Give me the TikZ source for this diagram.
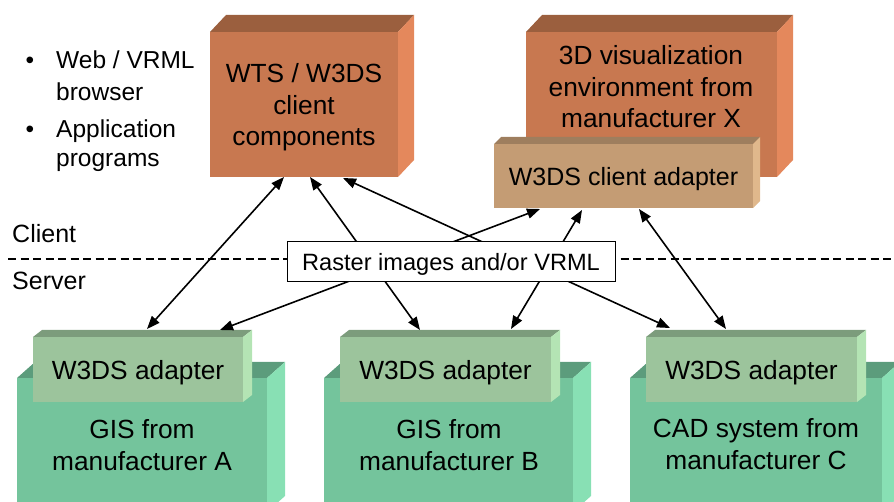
\documentclass[tikz,border=0pt]{standalone}
\usepackage{fontspec}
\setmainfont{Liberation Sans}
\usetikzlibrary{arrows.meta}
\definecolor{orF}{HTML}{C87850}
\definecolor{orT}{HTML}{9B5F3E}
\definecolor{orS}{HTML}{E4885C}
\definecolor{tnF}{HTML}{C49C74}
\definecolor{tnT}{HTML}{9E7E5E}
\definecolor{tnS}{HTML}{E0B88C}
\definecolor{gnF}{HTML}{74C49C}
\definecolor{gnT}{HTML}{5C9C7C}
\definecolor{gnS}{HTML}{88E0B4}
\definecolor{adF}{HTML}{9CC49C}
\definecolor{adT}{HTML}{7C9C7C}
\definecolor{adS}{HTML}{B4E4B4}
% #1 node, #2 dx, #3 dy (up), #4 top colour, #5 side colour
\newcommand\threedfaces[5]{%
  \fill[#4] (#1.north west) -- ++(#2,-#3) -- ([shift={(#2,-#3)}]#1.north east) -- (#1.north east) -- cycle;
  \fill[#5] (#1.north east) -- ++(#2,-#3) -- ([shift={(#2,-#3)}]#1.south east) -- (#1.south east) -- cycle;}
\begin{document}
\begin{tikzpicture}[x=1pt,y=-1pt,
  face/.style={inner sep=0pt, outer sep=0pt, anchor=north west},
  big/.style={font=\fontsize{26.3}{31.5}\selectfont, align=center, anchor=base, inner sep=0pt},
  one/.style={font=\fontsize{26.3}{31.5}\selectfont, text depth=0pt},
  side/.style={font=\fontsize{24.5}{31}\selectfont, anchor=base west, inner sep=0pt},
  arr/.style={line width=1.6pt, {Triangle[length=13pt,width=10pt]}-{Triangle[length=13pt,width=10pt]}}]
\useasboundingbox (0,0) rectangle (894,502);

% client side boxes
\node[face, fill=orF, minimum width=188pt, minimum height=145pt] (wts) at (210,32) {};
\threedfaces{wts}{16}{17}{orT}{orS}
\node[big] (wtsT) at (304,146) {WTS / W3DS\\client\\components};

\node[face, fill=orF, minimum width=251pt, minimum height=145pt] (vis) at (526,32) {};
\threedfaces{vis}{16}{17}{orT}{orS}
\node[big] (visT) at (651,128) {3D visualization\\environment from\\manufacturer X};

\node[face, fill=tnF, minimum width=259pt, minimum height=64pt, font=\fontsize{25}{30}\selectfont, text depth=0pt] (ca) at (494,144) {W3DS client adapter};
\threedfaces{ca}{7}{7}{tnT}{tnS}

% server side boxes
\node[face, fill=gnF, minimum width=250pt, minimum height=134pt] (ga) at (17,378) {};
\threedfaces{ga}{18}{16}{gnT}{gnS}
\node[big] (gaT) at (142,470) {GIS from\\manufacturer A};
\node[face, one, fill=adF, minimum width=210pt, minimum height=65pt] (ada) at (33,337) {W3DS adapter};
\threedfaces{ada}{9}{7}{adT}{adS}

\node[face, fill=gnF, minimum width=249pt, minimum height=134pt] (gb) at (324,378) {};
\threedfaces{gb}{18}{16}{gnT}{gnS}
\node[big] (gbT) at (449,470) {GIS from\\manufacturer B};
\node[face, one, fill=adF, minimum width=211pt, minimum height=65pt] (adb) at (340,337) {W3DS adapter};
\threedfaces{adb}{9}{7}{adT}{adS}

\node[face, fill=gnF, minimum width=252pt, minimum height=134pt] (gc) at (630,378) {};
\threedfaces{gc}{18}{16}{gnT}{gnS}
\node[big] (gcT) at (756,469) {CAD system from\\manufacturer C};
\node[face, one, fill=adF, minimum width=211pt, minimum height=65pt] (adc) at (646,337) {W3DS adapter};
\threedfaces{adc}{9}{7}{adT}{adS}

% left texts
\node[side, anchor=base] (b1) at (30,69) {•};
\node[side] (t1) at (56,69) {Web / VRML};
\node[side] (t1b) at (56,101) {browser};
\node[side, anchor=base] (b2) at (30,138) {•};
\node[side] (t2) at (56,138) {Application};
\node[side] (t2b) at (56,167) {programs};
\node[side, font=\fontsize{25}{30}\selectfont] (client) at (12,243) {Client};
\node[side, font=\fontsize{25}{30}\selectfont] (server) at (12,290) {Server};

% boundary
\draw[line width=1.8pt, dash pattern=on 8pt off 4.5pt] (8,259) -- (894,259);

% connectors
\draw[arr] ([xshift=-20pt]wts.south) -- ([xshift=9pt,yshift=8pt]ada.north);
\draw[arr] ([xshift=6pt]wts.south) -- ([xshift=-25.5pt,yshift=7pt]adb.north);
\draw[arr] ([xshift=39pt,yshift=-1pt]wts.south) -- ([xshift=-81.5pt,yshift=9pt]adc.north);
\draw[arr] ([xshift=-83.5pt,yshift=-1pt]ca.south) -- ([xshift=82pt,yshift=7pt]ada.north);
\draw[arr] ([xshift=-41.5pt,yshift=-2pt]ca.south) -- ([xshift=65.5pt,yshift=8pt]adb.north);
\draw[arr] ([xshift=15.5pt,yshift=-1pt]ca.south) -- ([xshift=-25.5pt,yshift=8pt]adc.north);

% label box over the connectors
\node[face, draw=black, line width=1pt, fill=white, minimum width=328pt, minimum height=40pt,
      font=\fontsize{23.6}{28}\selectfont, text depth=0pt] (raster) at (287,242) {Raster images and/or VRML};
\end{tikzpicture}
\end{document}
